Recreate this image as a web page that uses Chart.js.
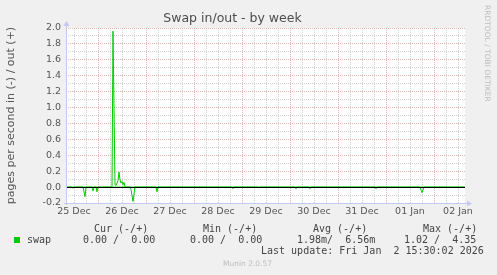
<!DOCTYPE html>
<html>
<head>
<meta charset="utf-8">
<script src="https://cdn.jsdelivr.net/npm/chart.js@4.4.1/dist/chart.umd.min.js"></script>
<style>
    html, body { margin: 0; padding: 0; background: #f0f0f0; }
    #wrap { position: relative; width: 497px; height: 275px; overflow: hidden; }
    #chart { position: absolute; left: 0; top: 0; }
    .mono { position: absolute; font: 10px 'DejaVu Sans Mono', monospace; line-height: 12px; color: #444; white-space: pre; }
    .swatch { position: absolute; left: 14px; top: 237px; width: 6px; height: 6px; background: #00cc00; }
    .rrd { position: absolute; left: 483px; top: 5px; font: 7.5px 'DejaVu Sans', sans-serif; color: #bdbdbd; writing-mode: vertical-rl; white-space: pre; }
    .munin { position: absolute; left: 0; width: 495px; top: 259px; text-align: center; font: 7.5px 'DejaVu Sans', sans-serif; color: #bdbdbd; }
</style>
</head>
<body>
<div id="wrap">
    <canvas id="chart" width="497" height="275"></canvas>
    <div class="rrd">RRDTOOL / TOBI OETIKER</div>
    <div class="mono" style="left:94px;top:223px">Cur (-/+)</div>
    <div class="mono" style="left:203px;top:223px">Min (-/+)</div>
    <div class="mono" style="left:313px;top:223px">Avg (-/+)</div>
    <div class="mono" style="left:423px;top:223px">Max (-/+)</div>
    <div class="swatch"></div>
    <div class="mono" style="left:27px;top:234px">swap</div>
    <div class="mono" style="left:83px;top:234px">0.00 /  0.00</div>
    <div class="mono" style="left:190px;top:234px">0.00 /  0.00</div>
    <div class="mono" style="left:297px;top:234px">1.98m/  6.56m</div>
    <div class="mono" style="left:404px;top:234px">1.02 /  4.35</div>
    <div class="mono" style="left:261px;top:245px">Last update: Fri Jan  2 15:30:02 2026</div>
    <div class="munin">Munin 2.0.57</div>
</div>
<script>
// hours since 25 Dec 00:00
var hours   = [8, 11, 11.5, 12, 16.5, 17.5, 18, 21, 21.5, 22, 23, 23.5, 24,
               31, 31.5, 32.5, 33, 34, 34.5, 35, 35.5, 36, 36.5, 37, 37.5,
               40, 40.5, 41.5, 42.5, 53, 53.5, 54, 91, 91.5, 92, 104, 104.5, 105,
               122.5, 123, 123.5, 129.5, 130, 130.5, 162.5, 163, 163.5, 185, 186, 187, 207.5];
var swapIn  = [0, 0, -0.015, 0, 0, -0.12, 0, 0, -0.05, 0, 0, -0.06, 0,
               0, 0, 0, 0, 0, 0, 0, 0, 0, 0, 0, 0,
               0, -0.03, -0.18, 0, 0, -0.06, 0, 0, -0.02, 0, 0, -0.01, 0,
               0, -0.02, 0, 0, -0.02, 0, 0, -0.02, 0, 0, -0.07, 0, 0];
var swapOut = [0, 0, 0, 0, 0, 0, 0, 0, 0, 0, 0, 0, 0,
               0, 1.96, 0.03, 0.02, 0.08, 0.19, 0.09, 0.05, 0.07, 0.03, 0.06, 0,
               0, 0, 0, 0, 0, 0, 0, 0, 0, 0, 0, 0, 0,
               0, 0, 0, 0, 0, 0, 0, 0, 0, 0, 0, 0, 0];

var dayLabels = ['25 Dec', '26 Dec', '27 Dec', '28 Dec', '29 Dec', '30 Dec', '31 Dec', '01 Jan', '02 Jan'];
var yTicks = [-0.2, -0.1, 0, 0.1, 0.2, 0.3, 0.4, 0.5, 0.6, 0.7, 0.8, 0.9, 1.0,
              1.1, 1.2, 1.3, 1.4, 1.5, 1.6, 1.7, 1.8, 1.9, 2.0];

var majorGrid = 'rgba(225, 130, 130, 0.6)';
var minorGrid = 'rgba(195, 195, 195, 0.75)';
var axisColor = '#c4c8f2';

function points(values) {
    return hours.map(function(h, i) { return { x: h, y: values[i] }; });
}

var frame = {
    id: 'frame',
    beforeDraw: function(chart) {
        var a = chart.chartArea, c = chart.ctx;
        c.save();
        c.fillStyle = '#ffffff';
        c.fillRect(a.left, a.top, a.right - a.left, a.bottom - a.top);
        c.restore();
    },
    afterDatasetsDraw: function(chart) {
        var a = chart.chartArea, c = chart.ctx;
        var y0 = Math.round(chart.scales.y.getPixelForValue(0)) + 0.5;
        c.save();
        c.strokeStyle = '#000000';
        c.lineWidth = 1;
        c.beginPath();
        c.moveTo(a.left, y0);
        c.lineTo(a.right, y0);
        c.stroke();
        // axes with arrows
        var lx = Math.round(a.left) + 0.5, by = Math.round(a.bottom) + 0.5;
        c.strokeStyle = axisColor;
        c.fillStyle = axisColor;
        c.beginPath();
        c.moveTo(lx, a.bottom + 2);
        c.lineTo(lx, a.top - 3);
        c.moveTo(a.left - 2, by);
        c.lineTo(a.right + 3, by);
        c.stroke();
        c.beginPath();
        c.moveTo(lx - 3, a.top - 2);
        c.lineTo(lx + 3, a.top - 2);
        c.lineTo(lx, a.top - 7);
        c.closePath();
        c.fill();
        c.beginPath();
        c.moveTo(a.right + 2, by - 3);
        c.lineTo(a.right + 2, by + 3);
        c.lineTo(a.right + 7, by);
        c.closePath();
        c.fill();
        c.restore();
    }
};

var ctx = document.getElementById('chart').getContext('2d');
var chart = new Chart(ctx, {
    type: 'line',
    data: {
        datasets: [
            {
                label: 'swap in',
                data: points(swapIn),
                borderColor: '#00cc00',
                borderWidth: 1,
                borderJoinStyle: 'round',
                pointRadius: 0,
                tension: 0
            },
            {
                label: 'swap out',
                data: points(swapOut),
                borderColor: '#00cc00',
                borderWidth: 1,
                borderJoinStyle: 'round',
                pointRadius: 0,
                tension: 0
            }
        ]
    },
    options: {
        responsive: false,
        animation: false,
        layout: { padding: { left: 0, right: 32, top: 0, bottom: 0 } },
        plugins: {
            legend: { display: false },
            tooltip: { enabled: false },
            title: {
                display: true,
                text: 'Swap in/out - by week',
                color: '#4d4d4d',
                font: { family: 'DejaVu Sans', size: 12.5, weight: 'normal' },
                padding: { top: 11, bottom: 2 }
            }
        },
        scales: {
            x: {
                type: 'linear',
                min: 8,
                max: 207.5,
                afterBuildTicks: function(scale) {
                    var t = [];
                    for (var h = 12; h <= 207.5; h += 6) t.push({ value: h });
                    scale.ticks = t;
                },
                afterFit: function(scale) { scale.height = 72; },
                ticks: {
                    autoSkip: false,
                    maxRotation: 0,
                    padding: 3,
                    color: '#555',
                    font: { family: 'DejaVu Sans', size: 9.5 },
                    callback: function(value) {
                        return value % 24 === 12 ? dayLabels[(value - 12) / 24] : '';
                    }
                },
                grid: {
                    drawTicks: false,
                    lineWidth: 1,
                    color: function(c) {
                        return c.tick && c.tick.value % 24 === 0 ? majorGrid : minorGrid;
                    }
                },
                border: { display: false, dash: [1, 1] }
            },
            y: {
                min: -0.2,
                max: 2.0,
                afterBuildTicks: function(scale) {
                    scale.ticks = yTicks.map(function(v) { return { value: v }; });
                },
                afterFit: function(scale) { scale.width = 66; },
                title: {
                    display: true,
                    text: 'pages per second in (-) / out (+)',
                    color: '#555',
                    font: { family: 'DejaVu Sans', size: 11 },
                    padding: { top: 5, bottom: 0 }
                },
                ticks: {
                    autoSkip: false,
                    padding: 5,
                    color: '#555',
                    font: { family: 'DejaVu Sans', size: 9.5 },
                    callback: function(value) {
                        return Math.round(value * 10) % 2 === 0 ? value.toFixed(1) : '';
                    }
                },
                grid: {
                    drawTicks: false,
                    lineWidth: 1,
                    color: function(c) {
                        if (!c.tick) return minorGrid;
                        return Math.round(c.tick.value * 10) % 2 === 0 ? majorGrid : minorGrid;
                    }
                },
                border: { display: false, dash: [1, 1] }
            }
        }
    },
    plugins: [frame]
});
</script>
</body>
</html>
